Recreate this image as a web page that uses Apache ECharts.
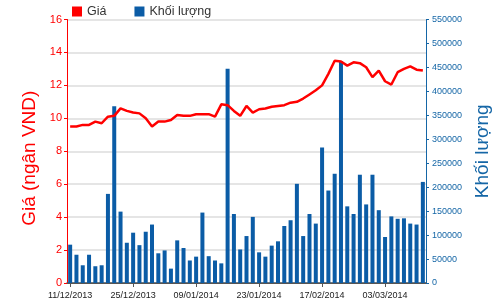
<!DOCTYPE html>
<html>
<head>
<meta charset="utf-8">
<script src="https://cdn.jsdelivr.net/npm/echarts@6/dist/echarts.min.js"></script>
<style>html,body{margin:0;padding:0;background:#fff;}#c{width:500px;height:300px;}</style>
</head>
<body>
<div id="c"></div>
<script>
var dates = ['11/12/2013','12/12/2013','13/12/2013','16/12/2013','17/12/2013','18/12/2013','19/12/2013','20/12/2013','23/12/2013','24/12/2013',
'25/12/2013','26/12/2013','27/12/2013','30/12/2013','31/12/2013','02/01/2014','03/01/2014','06/01/2014','07/01/2014','08/01/2014',
'09/01/2014','10/01/2014','13/01/2014','14/01/2014','15/01/2014','16/01/2014','17/01/2014','20/01/2014','21/01/2014','22/01/2014',
'23/01/2014','24/01/2014','27/01/2014','06/02/2014','07/02/2014','10/02/2014','11/02/2014','12/02/2014','13/02/2014','14/02/2014',
'17/02/2014','18/02/2014','19/02/2014','20/02/2014','21/02/2014','24/02/2014','25/02/2014','26/02/2014','27/02/2014','28/02/2014',
'03/03/2014','04/03/2014','05/03/2014','06/03/2014','07/03/2014','10/03/2014','11/03/2014'];

var price = [9.5,9.5,9.6,9.6,9.8,9.7,10.1,10.15,10.6,10.45,
10.35,10.3,10.0,9.5,9.8,9.8,9.9,10.2,10.15,10.15,
10.25,10.25,10.25,10.1,10.85,10.8,10.45,10.15,10.75,10.35,
10.55,10.6,10.7,10.75,10.8,10.95,11.0,11.2,11.45,11.7,
12.0,12.7,13.5,13.45,13.2,13.4,13.35,13.1,12.5,12.9,
12.25,12.05,12.8,13.0,13.15,12.95,12.9];

var volume = [80000,59000,37000,59000,35000,37000,186000,369000,149000,84000,
105000,79000,107000,122000,62000,68000,30000,89000,73000,47000,
55000,147000,56000,47000,41000,447000,144000,70000,98000,138000,
64000,55000,78000,87000,119000,131000,207000,98000,144000,124000,
283000,193000,228000,463000,160000,144000,226000,164000,226000,152000,
96000,139000,134000,135000,124000,122000,211000];

var seriesNames = ['Giá', 'Khối lượng'];
var leftAxisName = 'Giá (ngân VND)';
var rightAxisName = 'Khối lượng';

var FONT = 'Liberation Sans, Arial, sans-serif';
var chart = echarts.init(document.getElementById('c'), null, {renderer: 'canvas'});
chart.setOption({
  animation: false,
  textStyle: {fontFamily: FONT},
  legend: {
    data: seriesNames,
    left: 72, top: 5,
    padding: 0,
    icon: 'rect',
    itemWidth: 10, itemHeight: 10,
    itemGap: 28,
    textStyle: {fontSize: 12.5, color: '#333', fontFamily: FONT}
  },
  grid: {left: 67, right: 74, top: 19.5, bottom: 15, containLabel: false},
  xAxis: [{
    type: 'category',
    data: dates,
    boundaryGap: true,
    axisLine: {lineStyle: {color: '#555', width: 1}},
    axisTick: {show: true, interval: 9, alignWithLabel: true, length: 4, lineStyle: {color: '#555'}},
    axisLabel: {interval: 9, fontSize: 9, color: '#222', margin: 8, fontFamily: FONT},
    splitLine: {show: false}
  }, {
    type: 'category',
    data: dates,
    position: 'top',
    axisLine: {show: true, lineStyle: {color: '#555', width: 1.5}},
    axisTick: {show: false},
    axisLabel: {show: false},
    splitLine: {show: false}
  }],
  yAxis: [{
    type: 'value',
    min: 0, max: 16, interval: 2,
    position: 'left',
    name: leftAxisName,
    nameLocation: 'middle',
    nameRotate: 90,
    nameGap: 21,
    nameTextStyle: {color: '#ff0000', fontSize: 19, fontFamily: FONT, padding: [0, 14, 0, 0]},
    axisLine: {show: true, lineStyle: {color: '#ff0000', width: 1}},
    axisTick: {show: true, length: 3, lineStyle: {color: '#ff0000'}},
    axisLabel: {color: '#ff0000', fontSize: 11, margin: 5, fontFamily: FONT},
    splitLine: {show: true, lineStyle: {color: '#dcdcdc', width: 1.5}}
  }, {
    type: 'value',
    min: 0, max: 550000, interval: 50000,
    position: 'right',
    name: rightAxisName,
    nameLocation: 'middle',
    nameRotate: 90,
    nameGap: 38,
    nameTextStyle: {color: '#1566a6', fontSize: 19, fontFamily: FONT},
    axisLine: {show: true, lineStyle: {color: '#1566a6', width: 1}},
    axisTick: {show: true, length: 3, lineStyle: {color: '#1566a6'}},
    axisLabel: {color: '#1566a6', fontSize: 9, margin: 6, fontFamily: FONT,
      formatter: function (v) { return String(v); }},
    splitLine: {show: false}
  }],
  series: [{
    name: seriesNames[0],
    type: 'line',
    yAxisIndex: 0,
    data: price,
    symbol: 'none',
    lineStyle: {color: '#ff0000', width: 2.5},
    itemStyle: {color: '#ff0000'}
  }, {
    name: seriesNames[1],
    type: 'bar',
    yAxisIndex: 1,
    data: volume,
    barWidth: 4,
    itemStyle: {color: '#0b5ca6'}
  }]
});
</script>
</body>
</html>
